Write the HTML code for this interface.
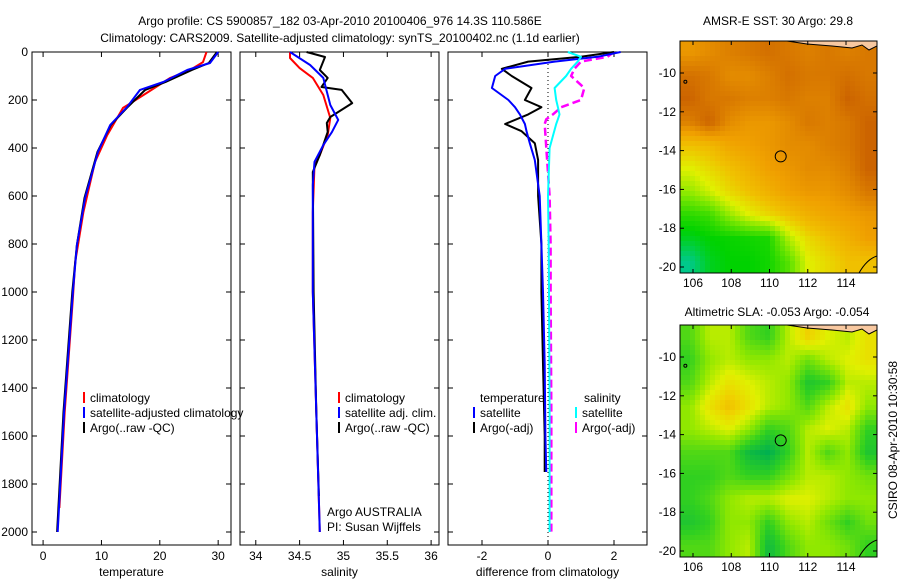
<!DOCTYPE html>
<html><head><meta charset="utf-8"><style>
body{margin:0;background:#fff;font-family:"Liberation Sans",sans-serif}
svg text{font-family:"Liberation Sans",sans-serif;font-size:12px;fill:#000}
</style></head><body>
<svg id="fig" width="900" height="580" xmlns="http://www.w3.org/2000/svg">
<text x="340" y="25" text-anchor="middle">Argo profile: CS 5900857_182 03-Apr-2010 20100406_976 14.3S 110.586E</text>
<text x="340" y="42" text-anchor="middle">Climatology: CARS2009. Satellite-adjusted climatology: synTS_20100402.nc (1.1d earlier)</text>
<text x="778" y="25" text-anchor="middle">AMSR-E SST: 30 Argo: 29.8</text>
<text x="777" y="316" text-anchor="middle">Altimetric SLA: -0.053 Argo: -0.054</text>
<text transform="translate(897,440) rotate(-90)" text-anchor="middle">CSIRO 08-Apr-2010 10:30:58</text>
</svg>
<script>
// ---- profile data ----
const depthBlue = [0,46,75,125,158,229,304,417,608,804,1000,1500,2000];
const tempSat = [30.0,28.6,24.7,20.6,16.6,14.4,11.5,9.4,7.2,5.8,5.1,3.6,2.5];
const tempArgo = [29.8,28.4,25.5,21,17.5,14.5,11.6,9.3,7.1,5.8,5.0,3.5,2.4];
const depthRed = [0,42,75,108,179,233,346,458,667,875,1025,1500,1900];
const tempClim = [28,27.4,25.2,21.8,17.2,13.7,11,8.9,6.9,5.5,5.1,3.7,2.8];
const depthSC = [0,25,67,108,179,275,346,429,471,667,1000,1500,2000];
const salClim = [34.39,34.39,34.5,34.65,34.77,34.85,34.82,34.73,34.67,34.65,34.65,34.69,34.73];
const depthSS = [0,54,108,150,221,283,333,388,458,554,1000,1500,2000];
const salSat = [34.39,34.62,34.77,34.8,34.85,34.94,34.87,34.77,34.67,34.65,34.65,34.69,34.73];
const depthSA = [0,21,75,108,146,158,213,271,296,333,429,500,1000,1500,1850];
const salArgo = [34.58,34.79,34.73,34.82,34.75,34.98,35.1,34.85,34.81,34.82,34.73,34.65,34.66,34.69,34.72];
const depthD = [0,20,40,70,100,150,200,230,260,300,330,380,450,600,800,1000,1300,1600,1750];
const dTempSat = [2.2,1.5,0.2,-1.3,-1.6,-1.7,-1.2,-1.0,-0.85,-0.7,-0.65,-0.55,-0.4,-0.25,-0.2,-0.15,-0.1,-0.08,-0.05];
const dTempArgo = [2.0,1.0,-0.6,-1.4,-1.1,-0.5,-0.7,-0.2,-0.6,-1.3,-0.8,-0.4,-0.3,-0.3,-0.2,-0.2,-0.15,-0.1,-0.1];
const depthD2 = [0,20,40,70,100,150,200,230,260,280,300,400,600,800,1000,1500,2000];
const dSalSat = [0.6,1.0,0.9,0.7,0.55,0.2,0.25,0.3,0.35,0.3,0.25,0.05,0.0,0.02,0.03,0.05,0.05];
const dSalArgo = [2.0,1.8,1.0,0.8,0.7,1.1,1.0,0.4,0.15,-0.05,-0.1,-0.05,0.05,0.08,0.08,0.1,0.1];
const tempTicks = [0,10,20,30];
const salTicks = [34,34.5,35,35.5,36];
const diffTicks = [-2,0,2];
// ---- map data ----
const sstGrid = [
[0.72,0.75,0.78,0.8,0.82,0.8,0.78,0.8,0.78,0.8],
[0.82,0.8,0.75,0.75,0.78,0.82,0.8,0.8,0.82,0.8],
[0.85,0.8,0.8,0.78,0.78,0.8,0.78,0.78,0.85,0.82],
[0.78,0.85,0.75,0.72,0.72,0.75,0.8,0.78,0.8,0.85],
[0.6,0.62,0.68,0.7,0.72,0.75,0.75,0.78,0.8,0.85],
[0.5,0.55,0.6,0.65,0.7,0.72,0.75,0.75,0.78,0.85],
[0.42,0.48,0.55,0.6,0.65,0.7,0.72,0.72,0.75,0.8],
[0.3,0.32,0.42,0.5,0.55,0.6,0.65,0.68,0.7,0.72],
[0.22,0.25,0.26,0.27,0.28,0.45,0.55,0.6,0.65,0.7],
[0.12,0.22,0.25,0.25,0.27,0.35,0.5,0.55,0.6,0.6]];
const slaGrid = [
[0.35,0.5,0.5,0.35,0.3,0.5,0.65,0.55,0.5,0.6],
[0.3,0.45,0.5,0.45,0.45,0.5,0.4,0.5,0.55,0.6],
[0.35,0.5,0.6,0.55,0.5,0.45,0.25,0.3,0.5,0.5],
[0.45,0.6,0.7,0.6,0.5,0.45,0.35,0.5,0.6,0.45],
[0.45,0.5,0.55,0.45,0.3,0.35,0.5,0.55,0.5,0.3],
[0.35,0.35,0.35,0.2,0.15,0.3,0.5,0.35,0.45,0.25],
[0.3,0.3,0.35,0.3,0.3,0.4,0.5,0.5,0.45,0.4],
[0.3,0.35,0.45,0.5,0.5,0.55,0.55,0.5,0.45,0.45],
[0.25,0.3,0.45,0.45,0.3,0.45,0.5,0.4,0.3,0.4],
[0.35,0.35,0.45,0.5,0.2,0.35,0.45,0.45,0.4,0.3]];
const lonTicks = [106,108,110,112,114];
const latTicks = [-10,-12,-14,-16,-18,-20];
const depthTicks = [0,200,400,600,800,1000,1200,1400,1600,1800,2000];
const floatLon = 110.586, floatLat = -14.3;

const NS='http://www.w3.org/2000/svg';
const svg=document.getElementById('fig');
function mk(tag,attrs,parent){const e=document.createElementNS(NS,tag);for(const k in attrs)e.setAttribute(k,attrs[k]);(parent||svg).appendChild(e);return e;}
function txt(x,y,s,anchor,parent){const t=mk('text',{x:x,y:y,'text-anchor':anchor||'start'},parent);t.textContent=s;return t;}

const yTop=52,yBot=545;
const depthScale=d=>52+d*0.24;
function panel(name,x0,x1,dmin,dmax,ticks,xlabel,showY){
  const g=mk('g',{});
  
  
  const sx=v=>x0+(v-dmin)/(dmax-dmin)*(x1-x0);
  const r=mk('rect',{x:x0,y:yTop,width:x1-x0,height:yBot-yTop,fill:'#fff',stroke:'#000','stroke-width':1},g);
  
  
  ticks.forEach(t=>{const x=sx(t);
    mk('line',{x1:x,x2:x,y1:yBot,y2:yBot-5,stroke:'#000'},g);
    mk('line',{x1:x,x2:x,y1:yTop,y2:yTop+5,stroke:'#000'},g);
    const l=txt(x,560,String(t),'middle',g);
    
    });
  depthTicks.forEach(d=>{const y=depthScale(d);
    mk('line',{x1:x0,x2:x0+5,y1:y,y2:y,stroke:'#000'},g);
    mk('line',{x1:x1,x2:x1-5,y1:y,y2:y,stroke:'#000'},g);
    if(showY){const l=txt(x0-4,y+4,String(d),'end',g);
      
      }});
  const xl=txt((x0+x1)/2,576,xlabel,'middle',g);
  
  
  return {g,sx};
}
function line(p,xs,ds,color,name,dash,w){
  const pts=xs.map((v,i)=>p.sx(v).toFixed(1)+','+depthScale(ds[i]).toFixed(1)).join(' ');
  const e=mk('polyline',{points:pts,fill:'none',stroke:color,'stroke-width':w||2,'stroke-dasharray':dash||'none','stroke-linejoin':'round'},p.g);
  
  
}

const p1=panel('temperature-panel',32,231,-1.9,32.2,tempTicks,'temperature',true);
line(p1,tempClim,depthRed,'#f00','climatology-temp-line');
line(p1,tempArgo,depthBlue,'#000','argo-temp-line');
line(p1,tempSat,depthBlue,'#00f','satellite-temp-line');

const p2=panel('salinity-panel',240,439,33.82,36.09,salTicks,'salinity',false);
line(p2,salClim,depthSC,'#f00','climatology-salinity-line');
line(p2,salArgo,depthSA,'#000','argo-salinity-line');
line(p2,salSat,depthSS,'#00f','satellite-salinity-line');

const p3=panel('difference-panel',448,647,-3.03,3.0,diffTicks,'difference from climatology',false);
mk('line',{x1:p3.sx(0),x2:p3.sx(0),y1:yTop,y2:yBot,stroke:'#000','stroke-dasharray':'1,3'},p3.g);
line(p3,dSalArgo,depthD2,'#f0f','argo-salinity-diff-line','8,4',2.5);
line(p3,dTempArgo,depthD,'#000','argo-temp-diff-line');
line(p3,dTempSat,depthD,'#00f','satellite-temp-diff-line');
line(p3,dSalSat,depthD2,'#0ff','satellite-salinity-diff-line');

function legendEntry(x,y,color,label){const g=mk('g',{});
  
  mk('line',{x1:x,x2:x,y1:y-10,y2:y+1,stroke:color,'stroke-width':2},g);
  txt(x+6,y,label,'start',g);}
legendEntry(84,402,'#f00','climatology');
legendEntry(84,417,'#00f','satellite-adjusted climatology');
legendEntry(84,432,'#000','Argo(..raw -QC)');
legendEntry(339,402,'#f00','climatology');
legendEntry(339,417,'#00f','satellite adj. clim.');
legendEntry(339,432,'#000','Argo(..raw -QC)');
const lt=txt(480,402,'temperature');
const ls=txt(584,402,'salinity');
legendEntry(474,417,'#00f','satellite');
legendEntry(474,432,'#000','Argo(-adj)');
legendEntry(576,417,'#0ff','satellite');
legendEntry(576,432,'#f0f','Argo(-adj)');
const ag=txt(327,516,'Argo AUSTRALIA');
const pi=txt(327,531,'PI: Susan Wijffels');

function hex(c){return [parseInt(c.slice(1,3),16),parseInt(c.slice(3,5),16),parseInt(c.slice(5,7),16)];}
function ramp(stops,v){for(let i=1;i<stops.length;i++){if(v<=stops[i][0]||i===stops.length-1){const a=stops[i-1],b=stops[i];let t=(v-a[0])/(b[0]-a[0]);t=Math.max(0,Math.min(1,t));const ca=hex(a[1]),cb=hex(b[1]);return 'rgb('+ca.map((c,k)=>Math.round(c+(cb[k]-c)*t)).join(',')+')';}}}
const sstStops=[[0.1,'#00c8a0'],[0.25,'#00d200'],[0.4,'#80e800'],[0.5,'#e0f000'],[0.6,'#f0c000'],[0.7,'#f0a000'],[0.8,'#d87800'],[0.9,'#c05000']];
const slaStops=[[0.15,'#00b050'],[0.3,'#30d020'],[0.45,'#90e800'],[0.55,'#e0f000'],[0.65,'#f0d000'],[0.75,'#f0b000']];
function map(name,x0,y0,x1,y1,latTop,grid,stops){
  const g=mk('g',{});
  const lonL=105.32,lonR=115.62,latB=latTop-(y1-y0)/19.4;
  const sx=lon=>x0+(lon-lonL)/(lonR-lonL)*(x1-x0);
  const sy=lat=>y0+(latTop-lat)/(latTop-latB)*(y1-y0);
  const R=grid.length,C=grid[0].length,step=5;
  for(let py=y0;py<y1;py+=step)for(let px=x0;px<x1;px+=step){
    const fx=(px-x0+step/2)/(x1-x0)*C-0.5,fy=(py-y0+step/2)/(y1-y0)*R-0.5;
    const i0=Math.max(0,Math.min(R-1,Math.floor(fy))),i1=Math.min(R-1,i0+1),j0=Math.max(0,Math.min(C-1,Math.floor(fx))),j1=Math.min(C-1,j0+1);
    const ty=Math.max(0,Math.min(1,fy-i0)),tx=Math.max(0,Math.min(1,fx-j0));
    const v=grid[i0][j0]*(1-tx)*(1-ty)+grid[i0][j1]*tx*(1-ty)+grid[i1][j0]*(1-tx)*ty+grid[i1][j1]*tx*ty;
    mk('rect',{x:px,y:py,width:Math.min(step,x1-px)+0.3,height:Math.min(step,y1-py)+0.3,fill:ramp(stops,v)},g);
  }
  mk('path',{d:`M${x1-90},${y0} L${x1-70},${y0+3} L${x1-45},${y0+5} L${x1-25},${y0+7} L${x1-15},${y0+4} L${x1-8},${y0+9} L${x1},${y0+5} L${x1},${y0} Z`,fill:'#f8c8a0',stroke:'#000','stroke-width':1},g);
  mk('path',{d:`M${x1-18},${y1} Q${x1-10},${y1-14} ${x1},${y1-17}`,fill:'none',stroke:'#000'},g);
  mk('rect',{x:x0,y:y0,width:x1-x0,height:y1-y0,fill:'none',stroke:'#000'},g);
  lonTicks.forEach(l=>{const x=sx(l);mk('line',{x1:x,x2:x,y1:y1,y2:y1-4,stroke:'#000'},g);mk('line',{x1:x,x2:x,y1:y0,y2:y0+4,stroke:'#000'},g);
    const t=txt(x,y1+14,String(l),'middle',g);});
  latTicks.forEach(l=>{const y=sy(l);mk('line',{x1:x0,x2:x0+4,y1:y,y2:y,stroke:'#000'},g);mk('line',{x1:x1,x2:x1-4,y1:y,y2:y,stroke:'#000'},g);
    const t=txt(x0-4,y+4,String(l),'end',g);});
  const c=mk('circle',{cx:sx(floatLon),cy:sy(floatLat),r:5.5,fill:'none',stroke:'#000'},g);
  
  mk('circle',{cx:sx(105.6),cy:sy(-10.45),r:1.5,fill:'none',stroke:'#000'},g);
}
map('sst-map',680,41,877,273,-8.35,sstGrid,sstStops);
map('sla-map',680,325,877,557,-8.35,slaGrid,slaStops);
</script>
</body></html>
